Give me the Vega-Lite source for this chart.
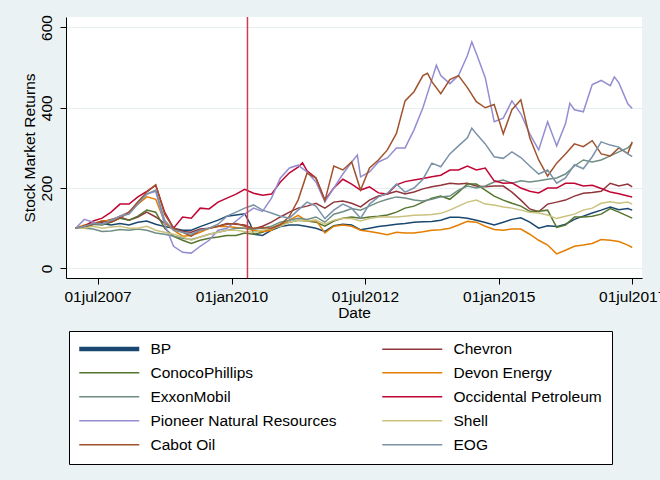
{
  "$schema": "https://vega.github.io/schema/vega-lite/v6.json",
  "width": 576,
  "height": 261,
  "autosize": {"type": "none"},
  "padding": {"left": 66, "top": 17, "right": 18, "bottom": 202},
  "background": "#eaf2f3",
  "config": {
    "font": "Liberation Sans",
    "view": {"fill": "#ffffff", "stroke": null},
    "axis": {
      "domainColor": "#000000",
      "domainWidth": 1,
      "tickColor": "#000000",
      "tickWidth": 1,
      "tickSize": 6,
      "labelColor": "#000000",
      "titleColor": "#000000",
      "labelFontSize": 15.5,
      "titleFontSize": 15.5,
      "titleFontWeight": "normal",
      "labelFlush": false,
      "labelOverlap": false
    }
  },
  "layer": [
    {
      "data": {
        "values": [
          {"date": "2007-02-01", "BP": 100, "Chevron": 100, "ConocoPhillips": 100, "Devon Energy": 100, "ExxonMobil": 100, "Occidental Petroleum": 100, "Pioneer Natural Resources": 100, "Shell": 100, "Cabot Oil": 100, "EOG": 100},
          {"date": "2007-04-01", "BP": 103, "Chevron": 105, "ConocoPhillips": 103, "Devon Energy": 108, "ExxonMobil": 100, "Occidental Petroleum": 105, "Pioneer Natural Resources": 122, "Shell": 100, "Cabot Oil": 105, "EOG": 105},
          {"date": "2007-06-01", "BP": 110, "Chevron": 112, "ConocoPhillips": 110, "Devon Energy": 112, "ExxonMobil": 98, "Occidental Petroleum": 118, "Pioneer Natural Resources": 115, "Shell": 105, "Cabot Oil": 110, "EOG": 112},
          {"date": "2007-08-01", "BP": 112, "Chevron": 115, "ConocoPhillips": 108, "Devon Energy": 118, "ExxonMobil": 92, "Occidental Petroleum": 125, "Pioneer Natural Resources": 110, "Shell": 100, "Cabot Oil": 118, "EOG": 110},
          {"date": "2007-10-01", "BP": 108, "Chevron": 122, "ConocoPhillips": 115, "Devon Energy": 120, "ExxonMobil": 93, "Occidental Petroleum": 140, "Pioneer Natural Resources": 118, "Shell": 103, "Cabot Oil": 115, "EOG": 120},
          {"date": "2007-12-01", "BP": 112, "Chevron": 128, "ConocoPhillips": 125, "Devon Energy": 130, "ExxonMobil": 97, "Occidental Petroleum": 160, "Pioneer Natural Resources": 130, "Shell": 105, "Cabot Oil": 125, "EOG": 130},
          {"date": "2008-02-01", "BP": 108, "Chevron": 120, "ConocoPhillips": 120, "Devon Energy": 140, "ExxonMobil": 95, "Occidental Petroleum": 160, "Pioneer Natural Resources": 140, "Shell": 100, "Cabot Oil": 140, "EOG": 135},
          {"date": "2008-04-01", "BP": 115, "Chevron": 128, "ConocoPhillips": 130, "Devon Energy": 160, "ExxonMobil": 98, "Occidental Petroleum": 178, "Pioneer Natural Resources": 165, "Shell": 100, "Cabot Oil": 165, "EOG": 160},
          {"date": "2008-06-01", "BP": 118, "Chevron": 140, "ConocoPhillips": 145, "Devon Energy": 178, "ExxonMobil": 95, "Occidental Petroleum": 192, "Pioneer Natural Resources": 185, "Shell": 105, "Cabot Oil": 190, "EOG": 185},
          {"date": "2008-08-01", "BP": 110, "Chevron": 128, "ConocoPhillips": 140, "Devon Energy": 172, "ExxonMobil": 88, "Occidental Petroleum": 207, "Pioneer Natural Resources": 192, "Shell": 95, "Cabot Oil": 208, "EOG": 195},
          {"date": "2008-10-01", "BP": 104, "Chevron": 112, "ConocoPhillips": 100, "Devon Energy": 115, "ExxonMobil": 85, "Occidental Petroleum": 140, "Pioneer Natural Resources": 110, "Shell": 90, "Cabot Oil": 135, "EOG": 120},
          {"date": "2008-12-01", "BP": 100, "Chevron": 100, "ConocoPhillips": 80, "Devon Energy": 95, "ExxonMobil": 80, "Occidental Petroleum": 100, "Pioneer Natural Resources": 55, "Shell": 85, "Cabot Oil": 100, "EOG": 95},
          {"date": "2009-02-01", "BP": 95, "Chevron": 92, "ConocoPhillips": 70, "Devon Energy": 80, "ExxonMobil": 75, "Occidental Petroleum": 128, "Pioneer Natural Resources": 40, "Shell": 78, "Cabot Oil": 90, "EOG": 90},
          {"date": "2009-04-01", "BP": 95, "Chevron": 90, "ConocoPhillips": 62, "Devon Energy": 82, "ExxonMobil": 72, "Occidental Petroleum": 125, "Pioneer Natural Resources": 38, "Shell": 70, "Cabot Oil": 80, "EOG": 85},
          {"date": "2009-06-01", "BP": 104, "Chevron": 98, "ConocoPhillips": 70, "Devon Energy": 90, "ExxonMobil": 78, "Occidental Petroleum": 150, "Pioneer Natural Resources": 55, "Shell": 78, "Cabot Oil": 95, "EOG": 95},
          {"date": "2009-08-01", "BP": 112, "Chevron": 100, "ConocoPhillips": 75, "Devon Energy": 100, "ExxonMobil": 85, "Occidental Petroleum": 148, "Pioneer Natural Resources": 70, "Shell": 85, "Cabot Oil": 100, "EOG": 100},
          {"date": "2009-10-01", "BP": 120, "Chevron": 105, "ConocoPhillips": 78, "Devon Energy": 104, "ExxonMobil": 90, "Occidental Petroleum": 165, "Pioneer Natural Resources": 95, "Shell": 90, "Cabot Oil": 105, "EOG": 110},
          {"date": "2009-12-01", "BP": 130, "Chevron": 112, "ConocoPhillips": 82, "Devon Energy": 104, "ExxonMobil": 95, "Occidental Petroleum": 175, "Pioneer Natural Resources": 100, "Shell": 95, "Cabot Oil": 110, "EOG": 130},
          {"date": "2010-02-01", "BP": 133, "Chevron": 110, "ConocoPhillips": 82, "Devon Energy": 102, "ExxonMobil": 100, "Occidental Petroleum": 185, "Pioneer Natural Resources": 118, "Shell": 95, "Cabot Oil": 112, "EOG": 140},
          {"date": "2010-04-01", "BP": 136, "Chevron": 108, "ConocoPhillips": 88, "Devon Energy": 100, "ExxonMobil": 100, "Occidental Petroleum": 197, "Pioneer Natural Resources": 135, "Shell": 92, "Cabot Oil": 105, "EOG": 150},
          {"date": "2010-05-10", "BP": 110},
          {"date": "2010-06-01", "BP": 85, "Chevron": 98, "ConocoPhillips": 85, "Devon Energy": 95, "ExxonMobil": 98, "Occidental Petroleum": 187, "Pioneer Natural Resources": 150, "Shell": 90, "Cabot Oil": 100, "EOG": 158},
          {"date": "2010-08-01", "BP": 82, "Chevron": 105, "ConocoPhillips": 90, "Devon Energy": 91, "ExxonMobil": 100, "Occidental Petroleum": 182, "Pioneer Natural Resources": 142, "Shell": 95, "Cabot Oil": 102, "EOG": 145},
          {"date": "2010-10-01", "BP": 95, "Chevron": 115, "ConocoPhillips": 100, "Devon Energy": 95, "ExxonMobil": 105, "Occidental Petroleum": 185, "Pioneer Natural Resources": 175, "Shell": 100, "Cabot Oil": 100, "EOG": 138},
          {"date": "2010-12-01", "BP": 104, "Chevron": 128, "ConocoPhillips": 110, "Devon Energy": 110, "ExxonMobil": 115, "Occidental Petroleum": 215, "Pioneer Natural Resources": 225, "Shell": 105, "Cabot Oil": 108, "EOG": 130},
          {"date": "2011-02-01", "BP": 108, "Chevron": 140, "ConocoPhillips": 115, "Devon Energy": 120, "ExxonMobil": 120, "Occidental Petroleum": 238, "Pioneer Natural Resources": 250, "Shell": 115, "Cabot Oil": 130, "EOG": 125},
          {"date": "2011-04-01", "BP": 108, "Chevron": 150, "ConocoPhillips": 120, "Devon Energy": 132, "ExxonMobil": 125, "Occidental Petroleum": 252, "Pioneer Natural Resources": 257, "Shell": 120, "Cabot Oil": 170, "EOG": 145},
          {"date": "2011-05-01", "Occidental Petroleum": 263},
          {"date": "2011-06-01", "BP": 104, "Chevron": 155, "ConocoPhillips": 118, "Devon Energy": 118, "ExxonMobil": 122, "Occidental Petroleum": 243, "Pioneer Natural Resources": 240, "Shell": 118, "Cabot Oil": 237, "EOG": 165},
          {"date": "2011-08-01", "BP": 100, "Chevron": 162, "ConocoPhillips": 115, "Devon Energy": 120, "ExxonMobil": 128, "Occidental Petroleum": 225, "Pioneer Natural Resources": 215, "Shell": 120, "Cabot Oil": 225, "EOG": 155},
          {"date": "2011-10-01", "BP": 92, "Chevron": 150, "ConocoPhillips": 105, "Devon Energy": 88, "ExxonMobil": 115, "Occidental Petroleum": 170, "Pioneer Natural Resources": 166, "Shell": 110, "Cabot Oil": 168, "EOG": 124},
          {"date": "2011-12-01", "BP": 106, "Chevron": 165, "ConocoPhillips": 118, "Devon Energy": 105, "ExxonMobil": 135, "Occidental Petroleum": 200, "Pioneer Natural Resources": 200, "Shell": 120, "Cabot Oil": 255, "EOG": 145},
          {"date": "2012-02-01", "BP": 110, "Chevron": 168, "ConocoPhillips": 125, "Devon Energy": 108, "ExxonMobil": 141, "Occidental Petroleum": 222, "Pioneer Natural Resources": 235, "Shell": 125, "Cabot Oil": 245, "EOG": 160},
          {"date": "2012-04-01", "BP": 108, "Chevron": 162, "ConocoPhillips": 128, "Devon Energy": 105, "ExxonMobil": 149, "Occidental Petroleum": 210, "Pioneer Natural Resources": 265, "Shell": 124, "Cabot Oil": 265, "EOG": 150},
          {"date": "2012-05-10", "Pioneer Natural Resources": 282},
          {"date": "2012-06-01", "BP": 96, "Chevron": 153, "ConocoPhillips": 125, "Devon Energy": 95, "ExxonMobil": 145, "Occidental Petroleum": 195, "Pioneer Natural Resources": 228, "Shell": 118, "Cabot Oil": 195, "EOG": 125},
          {"date": "2012-08-01", "BP": 100, "Chevron": 170, "ConocoPhillips": 128, "Devon Energy": 92, "ExxonMobil": 155, "Occidental Petroleum": 203, "Pioneer Natural Resources": 240, "Shell": 124, "Cabot Oil": 250, "EOG": 160},
          {"date": "2012-10-01", "BP": 104, "Chevron": 180, "ConocoPhillips": 130, "Devon Energy": 88, "ExxonMobil": 165, "Occidental Petroleum": 188, "Pioneer Natural Resources": 265, "Shell": 128, "Cabot Oil": 270, "EOG": 178},
          {"date": "2012-12-01", "BP": 107, "Chevron": 185, "ConocoPhillips": 133, "Devon Energy": 84, "ExxonMobil": 172, "Occidental Petroleum": 185, "Pioneer Natural Resources": 275, "Shell": 128, "Cabot Oil": 295, "EOG": 187},
          {"date": "2013-02-01", "BP": 110, "Chevron": 192, "ConocoPhillips": 140, "Devon Energy": 90, "ExxonMobil": 178, "Occidental Petroleum": 208, "Pioneer Natural Resources": 300, "Shell": 128, "Cabot Oil": 336, "EOG": 210},
          {"date": "2013-04-01", "BP": 112, "Chevron": 185, "ConocoPhillips": 150, "Devon Energy": 88, "ExxonMobil": 175, "Occidental Petroleum": 216, "Pioneer Natural Resources": 300, "Shell": 130, "Cabot Oil": 417, "EOG": 190},
          {"date": "2013-06-01", "BP": 115, "Chevron": 190, "ConocoPhillips": 155, "Devon Energy": 88, "ExxonMobil": 170, "Occidental Petroleum": 220, "Pioneer Natural Resources": 345, "Shell": 132, "Cabot Oil": 440, "EOG": 200},
          {"date": "2013-08-01", "BP": 116, "Chevron": 198, "ConocoPhillips": 165, "Devon Energy": 91, "ExxonMobil": 168, "Occidental Petroleum": 224, "Pioneer Natural Resources": 400, "Shell": 133, "Cabot Oil": 480, "EOG": 222},
          {"date": "2013-09-01", "Cabot Oil": 486},
          {"date": "2013-10-01", "BP": 117, "Chevron": 203, "ConocoPhillips": 175, "Devon Energy": 95, "ExxonMobil": 172, "Occidental Petroleum": 228, "Pioneer Natural Resources": 470, "Shell": 134, "Cabot Oil": 465, "EOG": 262},
          {"date": "2013-11-01", "Pioneer Natural Resources": 506},
          {"date": "2013-12-01", "BP": 120, "Chevron": 207, "ConocoPhillips": 180, "Devon Energy": 96, "ExxonMobil": 178, "Occidental Petroleum": 232, "Pioneer Natural Resources": 480, "Shell": 137, "Cabot Oil": 435, "EOG": 253},
          {"date": "2014-02-01", "BP": 127, "Chevron": 212, "ConocoPhillips": 172, "Devon Energy": 100, "ExxonMobil": 180, "Occidental Petroleum": 245, "Pioneer Natural Resources": 460, "Shell": 145, "Cabot Oil": 470, "EOG": 285},
          {"date": "2014-04-01", "BP": 127, "Chevron": 210, "ConocoPhillips": 190, "Devon Energy": 108, "ExxonMobil": 195, "Occidental Petroleum": 245, "Pioneer Natural Resources": 480, "Shell": 155, "Cabot Oil": 480, "EOG": 305},
          {"date": "2014-06-01", "BP": 125, "Chevron": 212, "ConocoPhillips": 210, "Devon Energy": 117, "ExxonMobil": 205, "Occidental Petroleum": 255, "Pioneer Natural Resources": 530, "Shell": 165, "Cabot Oil": 450, "EOG": 325},
          {"date": "2014-07-01", "Pioneer Natural Resources": 564, "EOG": 349},
          {"date": "2014-08-01", "BP": 120, "Chevron": 205, "ConocoPhillips": 210, "Devon Energy": 115, "ExxonMobil": 200, "Occidental Petroleum": 245, "Pioneer Natural Resources": 535, "Shell": 170, "Cabot Oil": 415, "EOG": 335},
          {"date": "2014-10-01", "BP": 114, "Chevron": 203, "ConocoPhillips": 195, "Devon Energy": 105, "ExxonMobil": 205, "Occidental Petroleum": 250, "Pioneer Natural Resources": 475, "Shell": 160, "Cabot Oil": 400, "EOG": 310},
          {"date": "2014-12-01", "BP": 108, "Chevron": 205, "ConocoPhillips": 180, "Devon Energy": 97, "ExxonMobil": 215, "Occidental Petroleum": 218, "Pioneer Natural Resources": 365, "Shell": 158, "Cabot Oil": 408, "EOG": 278},
          {"date": "2015-02-01", "BP": 115, "Chevron": 205, "ConocoPhillips": 170, "Devon Energy": 95, "ExxonMobil": 220, "Occidental Petroleum": 212, "Pioneer Natural Resources": 374, "Shell": 153, "Cabot Oil": 335, "EOG": 274},
          {"date": "2015-04-01", "BP": 122, "Chevron": 190, "ConocoPhillips": 162, "Devon Energy": 98, "ExxonMobil": 212, "Occidental Petroleum": 213, "Pioneer Natural Resources": 417, "Shell": 150, "Cabot Oil": 395, "EOG": 290},
          {"date": "2015-06-01", "BP": 126, "Chevron": 170, "ConocoPhillips": 155, "Devon Energy": 98, "ExxonMobil": 218, "Occidental Petroleum": 200, "Pioneer Natural Resources": 385, "Shell": 145, "Cabot Oil": 420, "EOG": 276},
          {"date": "2015-08-01", "BP": 115, "Chevron": 148, "ConocoPhillips": 142, "Devon Energy": 85, "ExxonMobil": 215, "Occidental Petroleum": 192, "Pioneer Natural Resources": 335, "Shell": 140, "Cabot Oil": 325, "EOG": 255},
          {"date": "2015-10-01", "BP": 100, "Chevron": 141, "ConocoPhillips": 142, "Devon Energy": 70, "ExxonMobil": 218, "Occidental Petroleum": 188, "Pioneer Natural Resources": 295, "Shell": 138, "Cabot Oil": 270, "EOG": 235},
          {"date": "2015-12-01", "BP": 106, "Chevron": 160, "ConocoPhillips": 145, "Devon Energy": 58, "ExxonMobil": 222, "Occidental Petroleum": 200, "Pioneer Natural Resources": 365, "Shell": 133, "Cabot Oil": 230, "EOG": 245},
          {"date": "2016-02-01", "BP": 104, "Chevron": 165, "ConocoPhillips": 102, "Devon Energy": 36, "ExxonMobil": 225, "Occidental Petroleum": 200, "Pioneer Natural Resources": 305, "Shell": 124, "Cabot Oil": 262, "EOG": 212},
          {"date": "2016-04-01", "BP": 110, "Chevron": 170, "ConocoPhillips": 108, "Devon Energy": 45, "ExxonMobil": 235, "Occidental Petroleum": 212, "Pioneer Natural Resources": 360, "Shell": 130, "Cabot Oil": 285, "EOG": 225},
          {"date": "2016-05-01", "Pioneer Natural Resources": 411},
          {"date": "2016-06-01", "BP": 122, "Chevron": 180, "ConocoPhillips": 128, "Devon Energy": 55, "ExxonMobil": 255, "Occidental Petroleum": 212, "Pioneer Natural Resources": 395, "Shell": 135, "Cabot Oil": 310, "EOG": 258},
          {"date": "2016-08-01", "BP": 130, "Chevron": 187, "ConocoPhillips": 128, "Devon Energy": 58, "ExxonMobil": 270, "Occidental Petroleum": 205, "Pioneer Natural Resources": 390, "Shell": 145, "Cabot Oil": 303, "EOG": 248},
          {"date": "2016-10-01", "BP": 138, "Chevron": 189, "ConocoPhillips": 130, "Devon Energy": 62, "ExxonMobil": 265, "Occidental Petroleum": 207, "Pioneer Natural Resources": 458, "Shell": 150, "Cabot Oil": 318, "EOG": 278},
          {"date": "2016-12-01", "BP": 145, "Chevron": 192, "ConocoPhillips": 135, "Devon Energy": 72, "ExxonMobil": 270, "Occidental Petroleum": 199, "Pioneer Natural Resources": 468, "Shell": 162, "Cabot Oil": 285, "EOG": 315},
          {"date": "2017-02-01", "BP": 153, "Chevron": 212, "ConocoPhillips": 149, "Devon Energy": 70, "ExxonMobil": 280, "Occidental Petroleum": 190, "Pioneer Natural Resources": 455, "Shell": 166, "Cabot Oil": 280, "EOG": 307},
          {"date": "2017-03-01", "Pioneer Natural Resources": 477},
          {"date": "2017-04-01", "BP": 146, "Chevron": 205, "ConocoPhillips": 140, "Devon Energy": 67, "ExxonMobil": 290, "Occidental Petroleum": 186, "Pioneer Natural Resources": 462, "Shell": 162, "Cabot Oil": 300, "EOG": 302},
          {"date": "2017-06-01", "BP": 149, "Chevron": 210, "ConocoPhillips": 130, "Devon Energy": 58, "ExxonMobil": 300, "Occidental Petroleum": 180, "Pioneer Natural Resources": 410, "Shell": 165, "Cabot Oil": 286, "EOG": 285},
          {"date": "2017-07-01", "BP": 145, "Chevron": 203, "ConocoPhillips": 125, "Devon Energy": 52, "ExxonMobil": 311, "Occidental Petroleum": 178, "Pioneer Natural Resources": 398, "Shell": 160, "Cabot Oil": 315, "EOG": 278}
        ]
      },
      "transform": [
        {"fold": ["BP", "Chevron", "ConocoPhillips", "Devon Energy", "ExxonMobil", "Occidental Petroleum", "Pioneer Natural Resources", "Shell", "Cabot Oil", "EOG"], "as": ["company", "value"]},
        {"filter": "isValid(datum.value)"}
      ],
      "mark": {"type": "line", "strokeWidth": 1.5},
      "encoding": {
        "x": {
          "field": "date",
          "type": "temporal",
          "scale": {
            "type": "utc",
            "domain": [
              {"year": 2006, "month": 11, "date": 27, "utc": true},
              {"year": 2017, "month": 9, "date": 6, "utc": true}
            ]
          },
          "axis": {
            "title": "Date",
            "grid": false,
            "values": [
              {"year": 2007, "month": 7, "date": 1, "utc": true},
              {"year": 2010, "month": 1, "date": 1, "utc": true},
              {"year": 2012, "month": 7, "date": 1, "utc": true},
              {"year": 2015, "month": 1, "date": 1, "utc": true},
              {"year": 2017, "month": 7, "date": 1, "utc": true}
            ],
            "labelExpr": "utcFormat(datum.value, '%d') + lower(utcFormat(datum.value, '%b')) + utcFormat(datum.value, '%Y')",
            "labelPadding": 5,
            "titleY": 27,
            "titleBaseline": "top"
          }
        },
        "y": {
          "field": "value",
          "type": "quantitative",
          "scale": {"domain": [-24, 626], "nice": false, "zero": false},
          "axis": {
            "title": "Stock Market Returns",
            "values": [0, 200, 400, 600],
            "grid": true,
            "gridColor": "#e6eef0",
            "labelAngle": -90,
            "labelAlign": "center",
            "labelBaseline": "alphabetic",
            "labelPadding": 9,
            "titleAngle": -90,
            "titleX": -29,
            "titleY": 130.5,
            "titleAlign": "center",
            "titleBaseline": "bottom"
          }
        },
        "color": {
          "field": "company",
          "type": "nominal",
          "scale": {
            "domain": ["BP", "ConocoPhillips", "ExxonMobil", "Pioneer Natural Resources", "Cabot Oil", "Chevron", "Devon Energy", "Occidental Petroleum", "Shell", "EOG"],
            "range": ["#1a476f", "#55752f", "#6e8e84", "#938dd2", "#a0522d", "#90353b", "#e37e00", "#c10534", "#cac27e", "#7b92a8"]
          },
          "legend": {
            "title": null,
            "orient": "none",
            "legendX": 3,
            "legendY": 314,
            "columns": 2,
            "columnPadding": 42,
            "rowPadding": 7,
            "padding": 10,
            "strokeColor": "#000000",
            "fillColor": "#ffffff",
            "symbolType": "M-1,0H7",
            "symbolSize": 225,
            "symbolStrokeWidth": 1.5,
            "labelFontSize": 15.5,
            "labelColor": "#000000",
            "labelOffset": 56,
            "labelLimit": 400,
            "encode": {
              "symbols": {
                "update": {
                  "strokeWidth": {"signal": "datum.value === 'BP' ? 4.5 : 1.5"}
                }
              }
            }
          }
        },
        "strokeWidth": {
          "condition": {"test": "datum.company === 'BP'", "value": 4},
          "value": 1.5
        }
      }
    },
    {
      "data": {"values": [{"date": "2010-04-20"}]},
      "mark": {"type": "rule", "color": "#c8404f", "strokeWidth": 1.5},
      "encoding": {
        "x": {"field": "date", "type": "temporal"}
      }
    }
  ]
}
